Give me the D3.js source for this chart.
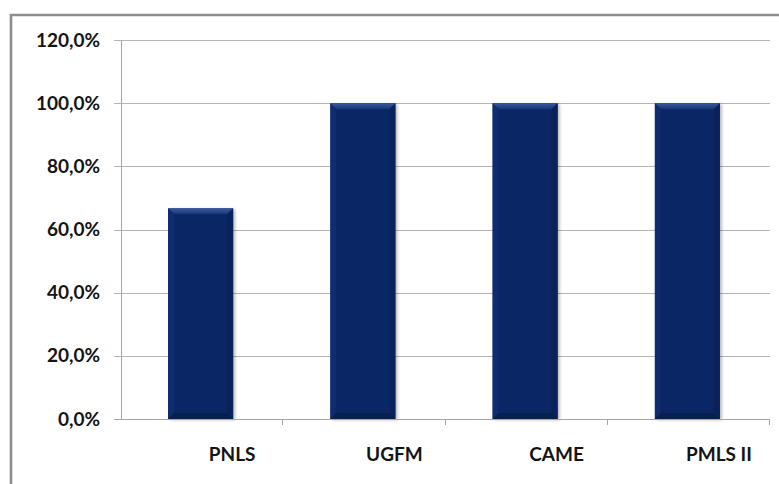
<!DOCTYPE html>
<html>
<head>
<meta charset="utf-8">
<script src="https://cdn.jsdelivr.net/npm/d3@7"></script>
<style>
  html, body { margin: 0; padding: 0; background: #fff; }
  svg text { font-family: Lato, "Open Sans", sans-serif; font-weight: bold; fill: #141414; }
</style>
</head>
<body>
<svg id="chart" width="779" height="484"></svg>
<script>
// Share of each programme (percent)
const categories = ["PNLS", "UGFM", "CAME", "PMLS II"];
const values = [66.7, 100, 100, 100];
const yTicks = [0, 20, 40, 60, 80, 100, 120];

const svg = d3.select("#chart");
const plot = { left: 121, right: 770, top: 40, bottom: 419 };

// Outer chart frame
svg.append("path")
  .attr("d", `M11,${484 + 5} L11,15 L${779 + 5},15`)
  .attr("fill", "none")
  .attr("stroke", "#8d8d8d")
  .attr("stroke-width", 2.6);

const x = d3.scaleBand().domain(categories).range([plot.left, plot.right]).padding(0);
const y = d3.scaleLinear().domain([0, 120]).range([plot.bottom, plot.top]);
const fmt = v => d3.format(".1f")(v).replace(".", ",") + "%";

// Horizontal gridlines with tick stubs on the left
svg.append("g").selectAll("line").data(yTicks.filter(t => t > 0)).join("line")
  .attr("x1", plot.left - 7).attr("x2", plot.right)
  .attr("y1", d => Math.round(y(d)) + 0.5).attr("y2", d => Math.round(y(d)) + 0.5)
  .attr("stroke", "#b4b4b4").attr("stroke-width", 1);

// Value axis labels
svg.append("g").selectAll("text").data(yTicks).join("text")
  .attr("x", 100).attr("y", d => y(d) + 6.5)
  .attr("text-anchor", "end")
  .attr("font-size", 19)
  .text(fmt);

// Bars with a bevelled look
const defs = svg.append("defs");
const topGrad = defs.append("linearGradient").attr("id", "bevelTop")
  .attr("x1", 0).attr("y1", 0).attr("x2", 0).attr("y2", 1);
topGrad.append("stop").attr("offset", 0).attr("stop-color", "#3a5a9c");
topGrad.append("stop").attr("offset", 1).attr("stop-color", "#163679");
const shadow = defs.append("filter").attr("id", "shadow")
  .attr("x", "-20%").attr("y", "-10%").attr("width", "140%").attr("height", "120%");
shadow.append("feGaussianBlur").attr("stdDeviation", 1.5);

const barW = 65;
const b = 6;
const bars = svg.append("g").selectAll("g").data(categories).join("g")
  .attr("transform", (d, i) => {
    const x0 = x(d) + (x.bandwidth() - barW) / 2 - 1.5;
    return `translate(${x0},${y(values[i])})`;
  });

bars.append("rect")
  .attr("x", 2).attr("y", 1)
  .attr("width", barW).attr("height", (d, i) => plot.bottom - y(values[i]))
  .attr("fill", "rgba(0,0,0,0.28)")
  .attr("filter", "url(#shadow)");

bars.append("rect")
  .attr("width", barW).attr("height", (d, i) => plot.bottom - y(values[i]))
  .attr("fill", "#0a2665");

bars.each(function(d, i) {
  const g = d3.select(this);
  const h = plot.bottom - y(values[i]);
  const w = barW;
  g.append("path").attr("d", `M0,0 L${w},0 L${w - b},${b} L${b},${b} Z`).attr("fill", "url(#bevelTop)");
  g.append("path").attr("d", `M0,0 L${b},${b} L${b},${h - b} L0,${h} Z`).attr("fill", "#0e2c6e");
  g.append("path").attr("d", `M${w},0 L${w - b},${b} L${w - b},${h - b} L${w},${h} Z`).attr("fill", "#09225c");
  g.append("path").attr("d", `M0,${h} L${b},${h - b} L${w - b},${h - b} L${w},${h} Z`).attr("fill", "#081f4f");
});

// Axis lines
svg.append("line")
  .attr("x1", plot.left + 0.5).attr("x2", plot.left + 0.5)
  .attr("y1", plot.top).attr("y2", plot.bottom)
  .attr("stroke", "#a6a6a6");
svg.append("line")
  .attr("x1", plot.left - 7).attr("x2", plot.right)
  .attr("y1", plot.bottom + 0.5).attr("y2", plot.bottom + 0.5)
  .attr("stroke", "#a6a6a6");
svg.append("g").selectAll("line").data(categories).join("line")
  .attr("x1", d => Math.round(x(d) + x.bandwidth()) - 0.5)
  .attr("x2", d => Math.round(x(d) + x.bandwidth()) - 0.5)
  .attr("y1", plot.bottom).attr("y2", plot.bottom + 6)
  .attr("stroke", "#a6a6a6");

// Category labels
svg.append("g").selectAll("text").data(categories).join("text")
  .attr("x", d => x(d) + x.bandwidth() / 2 + 30)
  .attr("y", 461)
  .attr("text-anchor", "middle")
  .attr("font-size", 19)
  .text(d => d);
</script>
</body>
</html>
